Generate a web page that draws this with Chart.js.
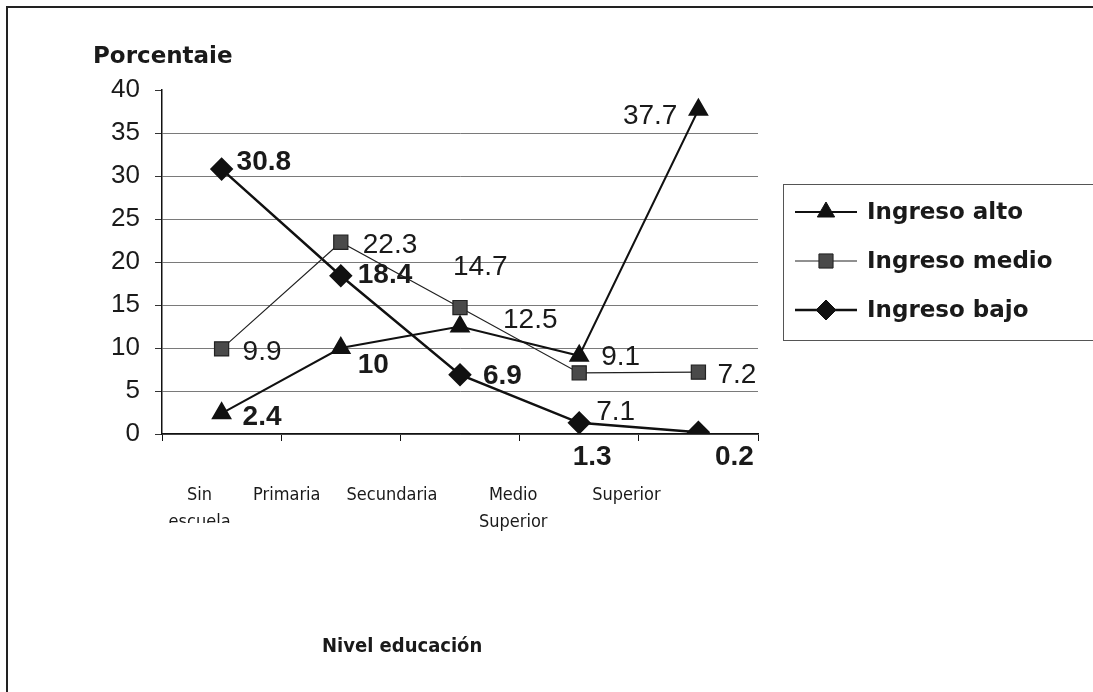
<!DOCTYPE html>
<html>
<head>
<meta charset="utf-8">
<script src="https://cdn.jsdelivr.net/npm/chart.js@4/dist/chart.umd.min.js"></script>
<style>
    html, body { margin: 0; padding: 0; background: #fff; }
    #frame { position: absolute; left: 6px; top: 6px; width: 1093px; height: 692px; border-left: 2px solid #222; border-top: 2px solid #222; }
    #wrap { position: absolute; left: 0; top: 0; width: 1093px; height: 692px; }
</style>
</head>
<body>
<div id="frame"></div>
<div id="wrap"><canvas id="lineChart" width="1093" height="692"></canvas></div>
<script>
    'use strict'

    var niveles = [['Sin', 'escuela'], 'Primaria', 'Secundaria', ['Medio', 'Superior'], 'Superior'];
    var ingresoAlto = [2.4, 10, 12.5, 9.1, 37.7];
    var ingresoMedio = [9.9, 22.3, 14.7, 7.1, 7.2];
    var ingresoBajo = [30.8, 18.4, 6.9, 1.3, 0.2];
    var yTicks = [0, 5, 10, 15, 20, 25, 30, 35, 40];

    // where each value label sits next to its point: [dx, dy, align, bold]
    var labelPos = [
        [[21, 4, 'left', true], [17, 17, 'left', true], [43, -6, 'left', false], [22, 2, 'left', false], [-21, 7, 'right', false]],
        [[21, 3, 'left', false], [22, 3, 'left', false], [-7, -40, 'left', false], [17, 39, 'left', false], [19, 3, 'left', false]],
        [[15, -7, 'left', true], [17, 0, 'left', true], [23, 2, 'left', true], [13, 34, 'center', true], [36, 25, 'center', true]]
    ];
    // category labels in the original sit left of the category centre
    var catShift = [-22, -54, -68, -66, -72];

    var textPlugin = {
        id: 'textPlugin',
        afterDraw: function (chart) {
            var ctx = chart.ctx;
            var xs = chart.scales.x;
            ctx.save();
            ctx.fillStyle = '#1a1a1a';
            ctx.textBaseline = 'middle';

            // axis titles
            ctx.textAlign = 'left';
            ctx.font = 'bold 23px "DejaVu Sans"';
            ctx.fillText('Porcentaie', 93, 57);
            ctx.font = 'bold 20px "DejaVu Sans Condensed"';
            ctx.fillText('Nivel educación', 322, 647);

            // category labels
            ctx.font = '18px "DejaVu Sans Condensed"';
            ctx.textAlign = 'center';
            niveles.forEach(function (lab, i) {
                var lines = Array.isArray(lab) ? lab : [lab];
                var x = xs.getPixelForValue(i) + catShift[i];
                ctx.save();
                if (i === 0) {
                    // the scan cuts off the lower half of "escuela"
                    ctx.beginPath();
                    ctx.rect(x - 60, 470, 120, 53);
                    ctx.clip();
                }
                lines.forEach(function (t, k) {
                    ctx.fillText(t, x, 495 + k * 27);
                });
                ctx.restore();
            });

            // value labels
            chart.data.datasets.forEach(function (ds, d) {
                var meta = chart.getDatasetMeta(d);
                meta.data.forEach(function (pt, i) {
                    var p = labelPos[d][i];
                    ctx.font = (p[3] ? 'bold ' : '') + '28px "Liberation Sans"';
                    ctx.textAlign = p[2];
                    ctx.fillText(String(ds.data[i]), pt.x + p[0], pt.y + p[1]);
                });
            });

            // legend box
            ctx.strokeStyle = '#555';
            ctx.lineWidth = 1;
            ctx.strokeRect(783.5, 184.5, 320, 156);
            chart.data.datasets.forEach(function (ds, d) {
                var y = 212 + d * 49;
                ctx.strokeStyle = ds.borderColor;
                ctx.lineWidth = ds.borderWidth;
                ctx.beginPath();
                ctx.moveTo(795, y);
                ctx.lineTo(857, y);
                ctx.stroke();
                ctx.fillStyle = ds.pointBackgroundColor;
                ctx.strokeStyle = ds.pointBorderColor;
                ctx.lineWidth = 1;
                Chart.helpers.drawPoint(ctx, { pointStyle: ds.pointStyle, radius: ds.pointRadius, borderWidth: 1 }, 826, y);
                ctx.fillStyle = '#1a1a1a';
                ctx.textAlign = 'left';
                ctx.font = 'bold 23px "DejaVu Sans"';
                ctx.fillText(ds.label, 867, y + 1);
            });
            ctx.restore();
        }
    };

    var lineCanvas = document.getElementById('lineChart').getContext('2d');
    var lineData = {
        labels: niveles,
        datasets: [{
            label: 'Ingreso alto',
            data: ingresoAlto,
            borderColor: '#111',
            borderWidth: 2,
            pointStyle: 'triangle',
            pointRadius: 10,
            pointBackgroundColor: '#111',
            pointBorderColor: '#111'
        }, {
            label: 'Ingreso medio',
            data: ingresoMedio,
            borderColor: '#222',
            borderWidth: 1.2,
            pointStyle: 'rect',
            pointRadius: 10,
            pointBackgroundColor: '#4a4a4a',
            pointBorderColor: '#222'
        }, {
            label: 'Ingreso bajo',
            data: ingresoBajo,
            borderColor: '#111',
            borderWidth: 2.5,
            pointStyle: 'rectRot',
            pointRadius: 10,
            pointBackgroundColor: '#111',
            pointBorderColor: '#111'
        }]
    };
    var lineOptions = {
        responsive: false,
        animation: false,
        layout: { padding: { left: 0, top: 90, right: 335, bottom: 0 } },
        elements: { line: { tension: 0 }, point: { borderWidth: 1 } },
        plugins: {
            legend: { display: false },
            tooltip: { enabled: false }
        },
        scales: {
            x: {
                type: 'category',
                offset: true,
                afterFit: function (scale) { scale.height = 258; },
                border: { display: true, color: '#111', width: 1.5 },
                grid: { drawOnChartArea: false, offset: true, tickLength: 7, tickColor: '#111' },
                ticks: { display: false }
            },
            y: {
                min: 0,
                max: 40,
                afterFit: function (scale) { scale.width = 162; },
                afterBuildTicks: function (scale) {
                    scale.ticks = yTicks.map(function (v) { return { value: v }; });
                },
                border: { display: true, color: '#111', width: 1.5 },
                grid: {
                    color: function (c) { return c.tick && c.tick.value === 40 ? 'rgba(0,0,0,0)' : '#7a7a7a'; },
                    tickLength: 7,
                    tickColor: '#333'
                },
                ticks: {
                    color: '#1a1a1a',
                    padding: 15,
                    font: { family: '"Liberation Sans"', size: 26 }
                }
            }
        }
    };
    var lineChart = new Chart(lineCanvas, {
        type: 'line',
        data: lineData,
        options: lineOptions,
        plugins: [textPlugin]
    });
</script>
</body>
</html>
